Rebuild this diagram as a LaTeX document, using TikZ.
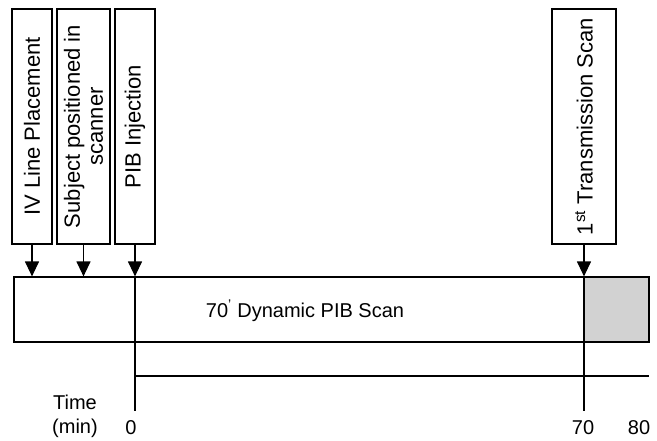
\documentclass[tikz,border=0pt]{standalone}
\usepackage{fontspec}
\setmainfont{Liberation Sans}
\usetikzlibrary{arrows.meta}

\begin{document}
\begin{tikzpicture}[x=1pt,y=-1pt]
\tikzset{every node/.style={inner sep=0pt,font=\fontsize{20}{24}\selectfont}}
\tikzset{event/.style={draw,line width=1.2pt,rotate=90,minimum width=235pt,minimum height=40pt,align=center,font=\fontsize{22}{23}\selectfont}}
\tikzset{pointer/.style={line width=1.2pt,-{Triangle[width=14pt,length=15pt]}}}
\tikzset{axis/.style={line width=1.2pt}}
\useasboundingbox (0,0) rectangle (657,440);
% events before and during the scan
\node[event] (iv) at (32,126.5) {IV Line Placement};
\node[event,minimum height=53pt] (subject) at (83.5,126.5) {Subject positioned in\\scanner};
\node[event] (pib) at (135,126.5) {PIB Injection};
\node[event,minimum height=64pt] (trans) at (584,126.5) {1\textsuperscript{st} Transmission Scan};
% the scan bar
\node[draw,line width=1.2pt,minimum width=635pt,minimum height=65pt] (bar) at (331.5,309.5) {};
\node[draw,line width=1.2pt,fill=gray!35,minimum width=65pt,minimum height=65pt] (tx) at (616.5,309.5) {};
\node (scan) at (305,311) {70\textsuperscript{'} Dynamic PIB Scan};
\draw[pointer] (iv.west) -- (iv.west |- bar.north);
\draw[pointer] (subject.west) -- (subject.west |- bar.north);
\draw[pointer] (pib.west) -- (pib.west |- bar.north);
\draw[pointer] (trans.west) -- (trans.west |- bar.north);
% time axis
\coordinate (z0) at (135,411);
\coordinate (z70) at (584,411);
\coordinate (z80) at (649,376);
\draw[axis] (pib.west |- bar.north) -- (z0);
\draw[axis] (trans.west |- bar.north) -- (z70);
\draw[axis] (z0 |- z80) -- (z80);
\node (time) at (75,402) {Time};
\node (min) at (75,428) {(min)};
\node (l0) at (131,428) {0};
\node (l70) at (583,428) {70};
\node (l80) at (639,428) {80};
\end{tikzpicture}
\end{document}
